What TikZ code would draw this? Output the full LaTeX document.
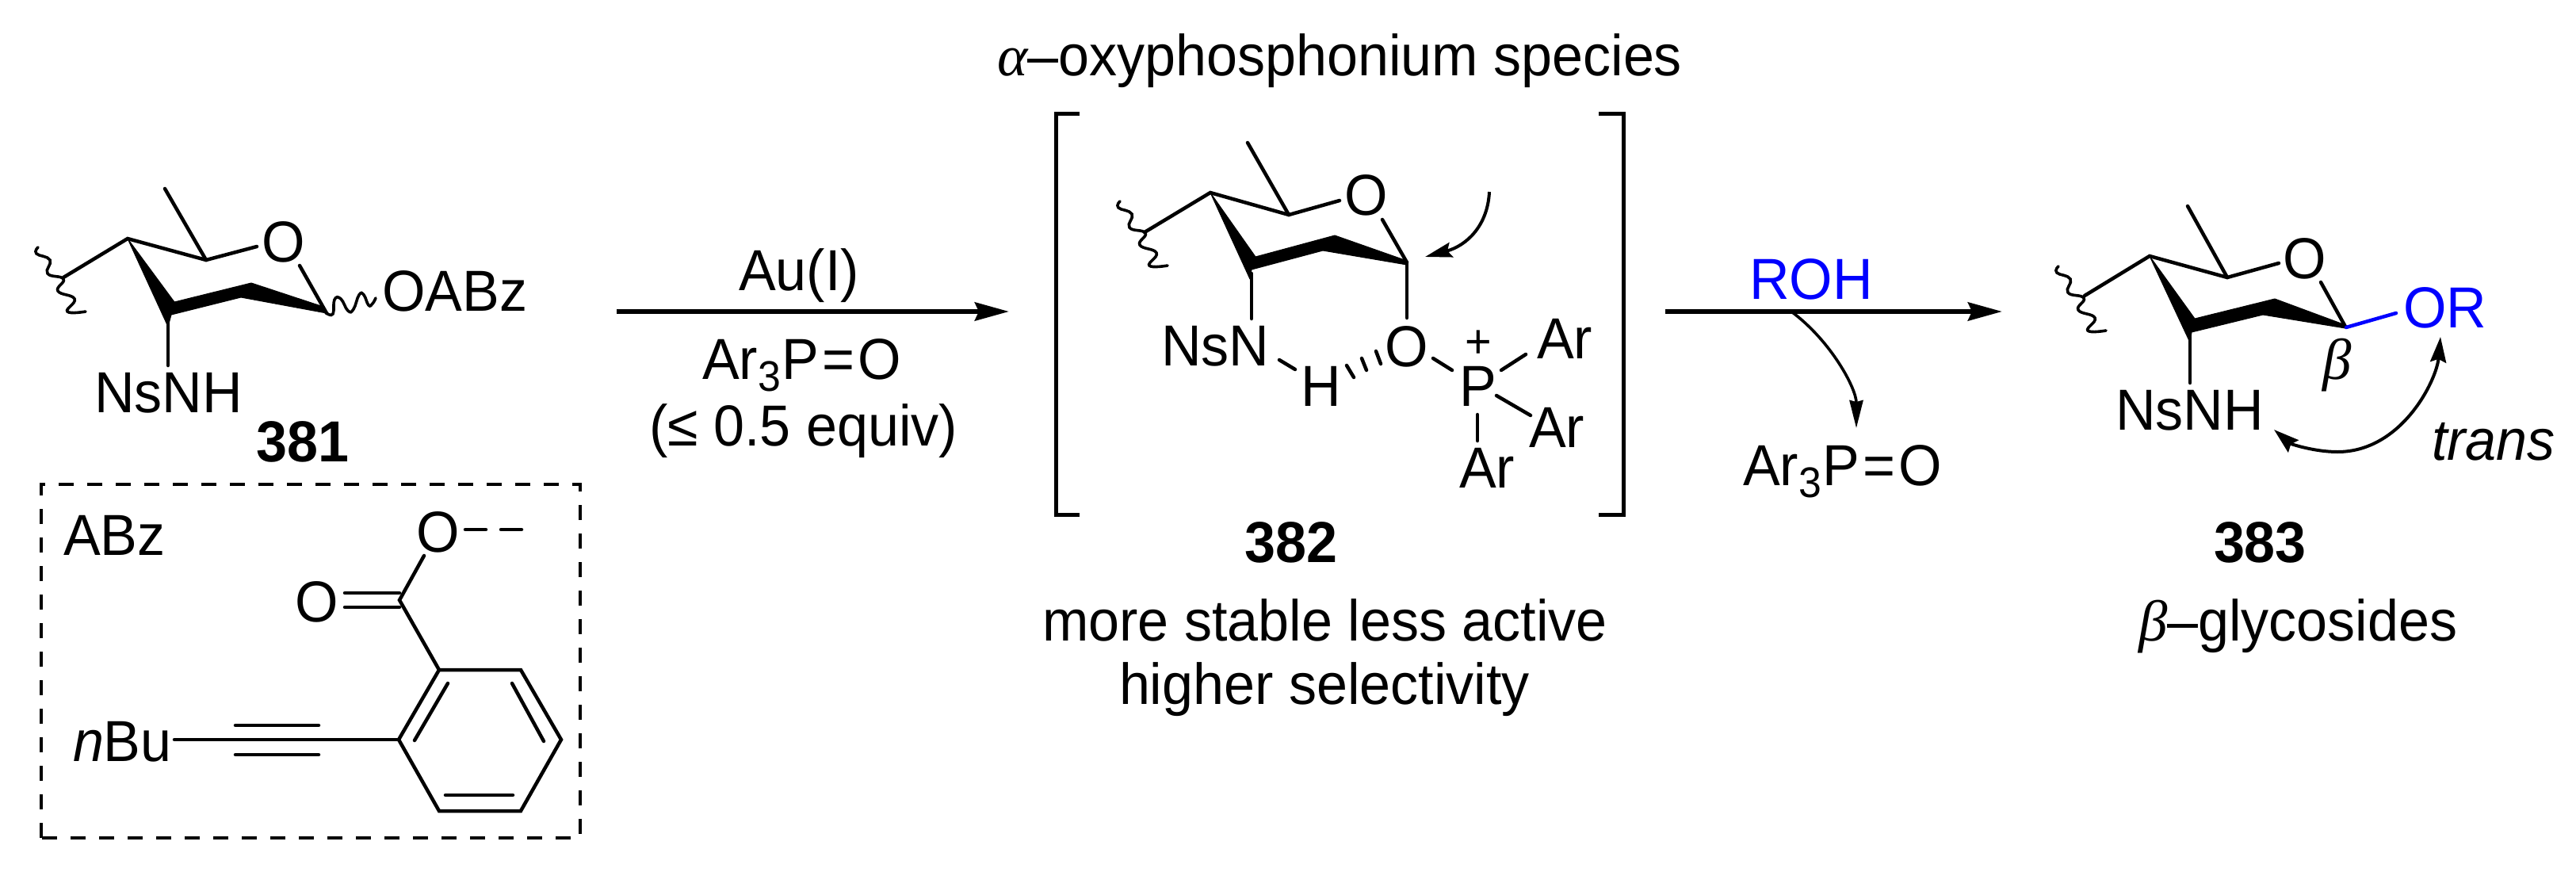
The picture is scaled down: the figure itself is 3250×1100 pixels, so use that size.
\documentclass[tikz,border=0pt]{standalone}
\usepackage{fontspec}
\setmainfont{Liberation Sans}[FakeStretch=0.96]
\newfontfamily\grfont{Liberation Serif}
\usetikzlibrary{arrows.meta}
\definecolor{rblue}{RGB}{0,0,255}
\newcommand{\bigf}{\fontsize{73}{80}\selectfont}
\newcommand{\subthree}{\raisebox{-15pt}{\fontsize{54}{54}\selectfont 3}\kern2pt}
\newcommand{\wavybond}{\draw[wave] plot[smooth,tension=0.8] coordinates {(48,312) (46,320) (63,328) (60,345) (80,352) (73,367) (94,377) (85,393) (108,393)};}
\tikzset{
  lbl/.style={inner sep=0pt,outer sep=0pt,anchor=base west,font=\bigf},
  lblc/.style={inner sep=0pt,outer sep=0pt,anchor=base,font=\bigf},
  bond/.style={line width=4.5pt,line cap=round,line join=miter},
  wave/.style={line width=3.6pt,line cap=round},
  wedgeb/.style={fill=black,draw=black,line width=1pt,line join=round},
  rxn/.style={line width=6pt,-{Stealth[length=43pt,width=23pt,inset=5pt]}},
  curvearrow/.style={line width=4pt,-{Stealth[length=34pt,width=19pt,inset=5pt]}},
  thinarrow/.style={line width=3.6pt,-{Stealth[length=35pt,width=17pt,inset=2pt]}},
  bothways/.style={line width=4pt,{Stealth[length=32pt,width=20pt,inset=4pt]}-{Stealth[length=32pt,width=20pt,inset=4pt]}},
  brack/.style={line width=5pt,line join=miter},
  dashbox/.style={line width=4.5pt,dash pattern=on 19pt off 17pt},
}
\begin{document}
\begin{tikzpicture}[x=1pt,y=-1pt]
\useasboundingbox (0,0) rectangle (3250,1100);

% ---------- 381 ----------
\wavybond
\draw[bond] (80,350) -- (161,301) -- (260,328) -- (324,311);
\draw[bond] (208,238) -- (260,328);
\draw[bond] (378,335) -- (412,395);
\draw[bond] (212,405) -- (212,461);
\fill[wedgeb] (161,301) -- (220,381) -- (317,357) -- (405,386) -- (412,395) -- (304,375) -- (216,397) -- (212,412) -- cycle;
\draw[wave] plot[smooth,tension=0.8] coordinates {(412,395) (420,396) (422,378) (430,377) (439,392) (446,390) (453,372) (459,372) (465,385) (470,383) (474,376)};
\node[lblc] (o381) at (358,330) {O};
\node[lbl] (oabz) at (482,392) {OABz};
\node[lbl] (nsnh381) at (119,520) {NsNH};
\node[lblc] (n381) at (382,582) {\bfseries 381};

% ---------- ABz box ----------
\draw[dashbox] (52,1057) -- (52,611) -- (732,611) -- (732,1057) -- cycle;
\node[lbl] (abz) at (80,700) {ABz};
\node[lblc] (oe) at (553,696) {O};
\node[lblc] (oc) at (400,784) {O};
\node[lbl] (nbu) at (92,960) {{\itshape n}Bu};
\draw[bond] (535,701) -- (504,757) -- (554,845);
\draw[bond] (587,668) -- (613,668);
\draw[bond] (632,668) -- (658,668);
\draw[bond] (435,748) -- (504,748);
\draw[bond] (435,766) -- (504,766);
\draw[bond] (554,845) -- (657,845) -- (708,933) -- (657,1023) -- (554,1023) -- (503,933) -- cycle;
\draw[bond] (565,862) -- (523,934);
\draw[bond] (646,862) -- (686,935);
\draw[bond] (562,1003) -- (647,1003);
\draw[bond] (220,933) -- (503,933);
\draw[bond] (297,915) -- (402,915);
\draw[bond] (297,952) -- (402,952);

% ---------- arrow 1 ----------
\coordinate (a1s) at (778,393);
\coordinate (a1e) at (1273,393);
\draw[rxn] (a1s) -- (a1e);
\node[lbl] (auI) at (932,366) {Au(I)};
\node[lbl] (ar3a) at (886,478) {Ar\subthree P\kern4pt=\kern4pt O};
\node[lbl] (equiv) at (819,562) {(≤ 0.5 equiv)};

% ---------- 382 ----------
\node[lbl] (alpha) at (1258,95) {{\grfont\itshape α}–oxyphosphonium species};
\draw[brack] (1362,143) -- (1332,143) -- (1332,649) -- (1362,649);
\draw[brack] (2017,143) -- (2048,143) -- (2048,649) -- (2017,649);
\begin{scope}[shift={(1365,-58)}]\wavybond\end{scope}
\draw[bond] (1444,293) -- (1527,243) -- (1626,271) -- (1690,253);
\draw[bond] (1574,180) -- (1626,271);
\draw[bond] (1744,277) -- (1775,331);
\draw[bond] (1775,331) -- (1775,401);
\draw[bond] (1579,345) -- (1579,402);
\fill[wedgeb] (1527,243) -- (1584,324) -- (1684,297) -- (1775,329) -- (1775,334) -- (1669,316) -- (1579,340) -- (1577,352) -- cycle;
\node[lblc] (o382) at (1724,271) {O};
\node[lbl] (nsn) at (1465,461) {NsN};
\node[lblc] (h382) at (1667,512) {H};
\node[lblc] (o2382) at (1775,462) {O};
\node[lblc] (p382) at (1865,512) {P};
\node[inner sep=0pt,anchor=base,font=\fontsize{60}{60}\selectfont] (plus) at (1865,451) {+};
\node[lbl] (ar1) at (1939,452) {Ar};
\node[lbl] (ar2) at (1929,564) {Ar};
\node[lbl] (ar3) at (1841,615) {Ar};
\draw[bond] (1614,454) -- (1634,466);
\draw[bond] (1699,461) -- (1708,476);
\draw[bond] (1718,452) -- (1724,467);
\draw[bond] (1736,443) -- (1742,459);
\draw[bond] (1808,452) -- (1832,467);
\draw[bond] (1894,467) -- (1925,447);
\draw[bond] (1888,499) -- (1931,524);
\draw[bond] (1864,523) -- (1864,556);
\coordinate (c1s) at (1879,242);
\coordinate (c1e) at (1798,324);
\draw[curvearrow] (c1s) .. controls (1877,285) and (1850,310) .. (c1e);
\node[lblc] (n382) at (1629,709) {\bfseries 382};
\node[lbl] (stable) at (1315,808) {more stable less active};
\node[lbl] (higher) at (1412,888) {higher selectivity};

% ---------- arrow 2 ----------
\coordinate (a2s) at (2101,393);
\coordinate (a2e) at (2526,393);
\draw[rxn] (a2s) -- (a2e);
\node[lbl,text=rblue] (roh) at (2207,377) {ROH};
\coordinate (c2s) at (2260,393);
\node[lbl] (ar3b) at (2199,612) {Ar\subthree P\kern4pt=\kern4pt O};
\coordinate (c2e) at (2342,540);
\draw[thinarrow] (c2s) .. controls (2310,430) and (2342,490) .. (c2e);

% ---------- 383 ----------
\begin{scope}[shift={(2549,24)}]\wavybond\end{scope}
\draw[bond] (2630,373) -- (2712,323) -- (2810,350) -- (2875,332);
\draw[bond] (2760,260) -- (2810,350);
\draw[bond] (2928,356) -- (2959,412);
\draw[bond] (2763,425) -- (2763,483);
\fill[wedgeb] (2712,323) -- (2769,402) -- (2870,377) -- (2959,410) -- (2959,414) -- (2855,397) -- (2765,419) -- (2763,432) -- cycle;
\draw[bond,rblue] (2960,413) -- (3023,395);
\node[lblc] (o383) at (2908,351) {O};
\node[lbl,text=rblue] (or) at (3032,413) {OR};
\node[lbl] (nsnh383) at (2669,542) {NsNH};
\node[lbl] (beta) at (2930,478) {{\grfont\itshape β}};
\node[lbl] (trans) at (3068,580) {\itshape trans};
\coordinate (d1) at (3079,425);
\coordinate (d2) at (2869,542);
\draw[bothways] (d1) .. controls (3074,480) and (3030,570) .. (2949,570) .. controls (2920,570) and (2890,560) .. (d2);
\node[lbl] (n383) at (2793,709) {\bfseries 383};
\node[lbl] (betag) at (2698,808) {{\grfont\itshape β}–glycosides};
\end{tikzpicture}
\end{document}
